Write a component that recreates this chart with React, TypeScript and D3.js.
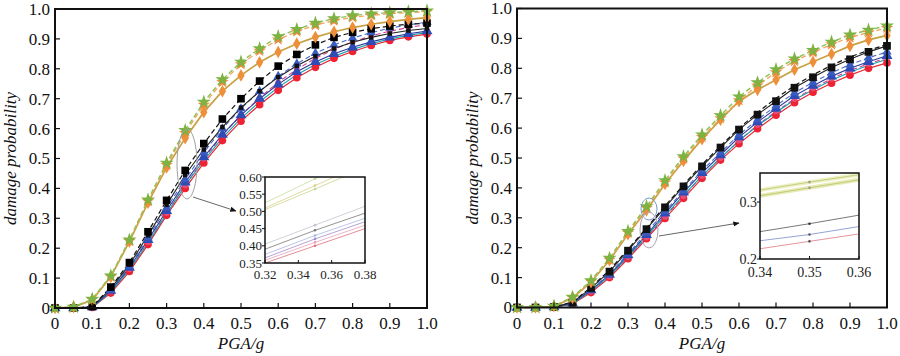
import React from 'react';
import * as d3 from 'd3';

// ---------- data ----------
const PGA = [0, 0.05, 0.1, 0.15, 0.2, 0.25, 0.3, 0.35, 0.4, 0.45, 0.5, 0.55, 0.6, 0.65, 0.7, 0.75, 0.8, 0.85, 0.9, 0.95, 1.0];
const AXIS_TICKS = [0, 0.1, 0.2, 0.3, 0.4, 0.5, 0.6, 0.7, 0.8, 0.9, 1.0];
const AXIS_TICK_LABELS = ['0', '0.1', '0.2', '0.3', '0.4', '0.5', '0.6', '0.7', '0.8', '0.9', '1.0'];

// left panel
const L_GREEN_DASH = [0, 0.003, 0.03, 0.108, 0.228, 0.362, 0.485, 0.594, 0.689, 0.764, 0.823, 0.868, 0.908, 0.932, 0.953, 0.968, 0.978, 0.984, 0.988, 0.991, 0.994];
const L_ORANGE_DASH = [0, 0.003, 0.028, 0.105, 0.224, 0.357, 0.478, 0.585, 0.68, 0.756, 0.815, 0.86, 0.898, 0.925, 0.946, 0.961, 0.972, 0.979, 0.984, 0.988, 0.991];
const L_GOLD_SOLID = [0, 0.003, 0.027, 0.104, 0.222, 0.352, 0.47, 0.568, 0.655, 0.725, 0.778, 0.822, 0.856, 0.884, 0.906, 0.924, 0.938, 0.949, 0.958, 0.965, 0.971];
const L_BLACK_DASH = [0, 0, 0.005, 0.07, 0.152, 0.255, 0.36, 0.46, 0.55, 0.632, 0.70, 0.759, 0.809, 0.848, 0.88, 0.905, 0.922, 0.934, 0.943, 0.949, 0.953];
const L_BLACK_SOLID = [0, 0, 0.004, 0.065, 0.145, 0.243, 0.345, 0.445, 0.53, 0.605, 0.67, 0.725, 0.772, 0.81, 0.842, 0.868, 0.889, 0.905, 0.918, 0.928, 0.935];
const L_BLUE_DASH = [0, 0, 0.003, 0.06, 0.14, 0.235, 0.335, 0.43, 0.52, 0.6, 0.667, 0.725, 0.775, 0.817, 0.852, 0.88, 0.903, 0.921, 0.936, 0.947, 0.956];
const L_BLUE_SOLID = [0, 0, 0.003, 0.058, 0.135, 0.228, 0.325, 0.42, 0.505, 0.58, 0.645, 0.7, 0.748, 0.79, 0.823, 0.85, 0.872, 0.89, 0.905, 0.917, 0.926];
const L_TEAL_SOLID = [0, 0, 0.002, 0.054, 0.128, 0.218, 0.315, 0.41, 0.494, 0.569, 0.634, 0.69, 0.738, 0.78, 0.814, 0.842, 0.865, 0.884, 0.9, 0.912, 0.921];
const L_MAGENTA_DASH = [0, 0, 0.002, 0.055, 0.13, 0.22, 0.318, 0.41, 0.5, 0.578, 0.645, 0.703, 0.755, 0.798, 0.835, 0.865, 0.89, 0.91, 0.926, 0.938, 0.948];
const L_RED_SOLID = [0, 0, 0.002, 0.05, 0.122, 0.212, 0.31, 0.40, 0.485, 0.56, 0.625, 0.68, 0.728, 0.77, 0.805, 0.835, 0.858, 0.878, 0.895, 0.907, 0.916];

// right panel
const R_GREEN_DASH = [0, 0, 0.005, 0.035, 0.09, 0.165, 0.255, 0.338, 0.425, 0.505, 0.578, 0.642, 0.705, 0.752, 0.796, 0.832, 0.86, 0.888, 0.912, 0.928, 0.942];
const R_ORANGE_DASH = [0, 0, 0.004, 0.033, 0.087, 0.16, 0.25, 0.333, 0.418, 0.498, 0.57, 0.633, 0.693, 0.742, 0.787, 0.824, 0.853, 0.88, 0.903, 0.92, 0.935];
const R_GOLD_SOLID = [0, 0, 0.004, 0.032, 0.085, 0.158, 0.245, 0.325, 0.413, 0.49, 0.563, 0.628, 0.69, 0.728, 0.762, 0.795, 0.822, 0.848, 0.875, 0.895, 0.91];
const R_BLACK_DASH = [0, 0, 0.002, 0.018, 0.068, 0.125, 0.195, 0.266, 0.34, 0.41, 0.478, 0.54, 0.6, 0.652, 0.7, 0.742, 0.778, 0.81, 0.838, 0.86, 0.88];
const R_BLACK_SOLID = [0, 0, 0.002, 0.017, 0.065, 0.12, 0.19, 0.262, 0.335, 0.405, 0.472, 0.535, 0.595, 0.645, 0.69, 0.735, 0.77, 0.803, 0.83, 0.855, 0.875];
const R_BLUE_DASH = [0, 0, 0.001, 0.015, 0.06, 0.113, 0.18, 0.25, 0.322, 0.39, 0.458, 0.518, 0.578, 0.628, 0.675, 0.718, 0.753, 0.785, 0.812, 0.835, 0.855];
const R_BLUE_SOLID = [0, 0, 0.001, 0.014, 0.058, 0.11, 0.175, 0.243, 0.315, 0.385, 0.45, 0.51, 0.57, 0.62, 0.665, 0.708, 0.742, 0.773, 0.8, 0.822, 0.842];
const R_TEAL_SOLID = [0, 0, 0.001, 0.013, 0.055, 0.105, 0.17, 0.237, 0.307, 0.375, 0.44, 0.5, 0.558, 0.608, 0.652, 0.695, 0.728, 0.76, 0.787, 0.81, 0.83];
const R_MAGENTA_DASH = [0, 0, 0.001, 0.012, 0.053, 0.103, 0.168, 0.234, 0.303, 0.372, 0.44, 0.5, 0.558, 0.61, 0.656, 0.697, 0.733, 0.765, 0.793, 0.815, 0.835];
const R_RED_SOLID = [0, 0, 0.001, 0.012, 0.05, 0.1, 0.163, 0.23, 0.298, 0.365, 0.432, 0.493, 0.548, 0.598, 0.643, 0.685, 0.72, 0.75, 0.777, 0.8, 0.818];

// left inset (zoom of PGA 0.32–0.38)
const LI_X = [0.32, 0.35, 0.38];
const LI_UP1 = [0.525, 0.595, 0.665];
const LI_UP2 = [0.51, 0.575, 0.64];
const LI_UP3 = [0.505, 0.565, 0.627];
const LI_LO1 = [0.405, 0.46, 0.515];
const LI_LO2 = [0.39, 0.445, 0.495];
const LI_LO3 = [0.375, 0.43, 0.48];
const LI_LO4 = [0.365, 0.42, 0.47];
const LI_LO5 = [0.358, 0.41, 0.46];
const LI_LO6 = [0.35, 0.40, 0.45];
const LI_X_TICKS = [0.32, 0.34, 0.36, 0.38];
const LI_X_LABELS = ['0.32', '0.34', '0.36', '0.38'];
const LI_Y_TICKS = [0.35, 0.40, 0.45, 0.50, 0.55, 0.60];
const LI_Y_LABELS = ['0.35', '0.40', '0.45', '0.50', '0.55', '0.60'];

// right inset (zoom of PGA 0.34–0.36)
const RI_X = [0.34, 0.35, 0.36];
const RI_UP1 = [0.321, 0.335, 0.348];
const RI_UP2 = [0.311, 0.325, 0.339];
const RI_LO1 = [0.248, 0.262, 0.277];
const RI_LO2 = [0.232, 0.243, 0.257];
const RI_LO3 = [0.218, 0.231, 0.244];
const RI_X_TICKS = [0.34, 0.35, 0.36];
const RI_X_LABELS = ['0.34', '0.35', '0.36'];
const RI_Y_TICKS = [0.2, 0.3];
const RI_Y_LABELS = ['0.2', '0.3'];

// ---------- styles ----------
type Sty = { color: string; dash?: string; width: number; marker?: any; mcolor?: string; msize?: number };
const ST = {
  green: { color: '#8cc152', dash: '5,3', width: 1.4, marker: d3.symbolStar, mcolor: '#7cb342', msize: 62 },
  orange: { color: '#f4a460', dash: '5,3', width: 1.3, marker: d3.symbolStar, mcolor: '#f0883a', msize: 48 },
  gold: { color: '#c8a040', width: 1.7, marker: d3.symbolDiamond, mcolor: '#ee8f3a', msize: 46 },
  blackD: { color: '#111', dash: '5,3', width: 1.2, marker: d3.symbolSquare, mcolor: '#000', msize: 58 },
  blackS: { color: '#222', width: 1.1, marker: d3.symbolSquare, mcolor: '#111', msize: 20 },
  blueD: { color: '#4a68c8', dash: '5,3', width: 1.1, marker: d3.symbolTriangle, mcolor: '#3a5bc0', msize: 38 },
  blueS: { color: '#2a3a9a', width: 1.1, marker: d3.symbolTriangle, mcolor: '#2f4bb5', msize: 52 },
  teal: { color: '#1a9ea8', width: 1.1 },
  magenta: { color: '#d23c8c', dash: '5,3', width: 1.1, marker: d3.symbolCircle, mcolor: '#e0507a', msize: 26 },
  red: { color: '#e62a36', width: 1.2, marker: d3.symbolCircle, mcolor: '#ee2233', msize: 46 },
} as Record<string, Sty>;

const LEFT_SERIES: [number[], Sty][] = [
  [L_RED_SOLID, ST.red], [L_MAGENTA_DASH, ST.magenta], [L_TEAL_SOLID, ST.teal], [L_BLUE_SOLID, ST.blueS],
  [L_BLUE_DASH, ST.blueD], [L_BLACK_SOLID, ST.blackS], [L_BLACK_DASH, ST.blackD],
  [L_GOLD_SOLID, ST.gold], [L_ORANGE_DASH, ST.orange], [L_GREEN_DASH, ST.green],
];
const RIGHT_SERIES: [number[], Sty][] = [
  [R_RED_SOLID, ST.red], [R_MAGENTA_DASH, ST.magenta], [R_TEAL_SOLID, ST.teal], [R_BLUE_SOLID, ST.blueS],
  [R_BLUE_DASH, ST.blueD], [R_BLACK_DASH, { ...ST.blackD, marker: undefined }], [R_BLACK_SOLID, { ...ST.blackS, msize: 60 }],
  [R_GOLD_SOLID, ST.gold], [R_ORANGE_DASH, ST.orange], [R_GREEN_DASH, ST.green],
];

const FONT = '"Times New Roman", "Liberation Serif", "DejaVu Serif", serif';

type Box = { l: number; r: number; t: number; b: number };

function Inset({ id, box, xd, yd, xs, lines, xt, xl, yt, yl, fs, markAt, xlOff }: any) {
  const x = d3.scaleLinear().domain(xd).range([box.l, box.r]);
  const y = d3.scaleLinear().domain(yd).range([box.b, box.t]);
  const line = d3.line<number>().x((_, i) => x(xs[i])).y((d) => y(d));
  return (
    <g>
      <defs>
        <clipPath id={id}>
          <rect x={box.l} y={box.t} width={box.r - box.l} height={box.b - box.t} />
        </clipPath>
      </defs>
      <rect x={box.l} y={box.t} width={box.r - box.l} height={box.b - box.t} fill="#fff" />
      <g clipPath={`url(#${id})`}>
        {lines.map((ln: any, i: number) => (
          <g key={i}>
            {ln.band && <path d={line(ln.v) || ''} fill="none" stroke={ln.band} strokeWidth={4} />}
            <path d={line(ln.v) || ''} fill="none" stroke={ln.c} strokeWidth={ln.w || 0.8} />
            <circle cx={x(xs[markAt])} cy={y(ln.v[markAt])} r={1.3} fill={ln.m || ln.c} />
          </g>
        ))}
      </g>
      <rect x={box.l} y={box.t} width={box.r - box.l} height={box.b - box.t} fill="none" stroke="#111" strokeWidth={1.5} />
      {yt.map((t: number, i: number) => (
        <g key={'y' + i}>
          <line x1={box.l - 3} x2={box.l} y1={y(t)} y2={y(t)} stroke="#111" strokeWidth={1} />
          <text x={box.l - 3} y={y(t)} dy="0.35em" textAnchor="end" fontSize={fs} style={{ fontFamily: FONT }} fill="#222">{yl[i]}</text>
        </g>
      ))}
      {xt.map((t: number, i: number) => (
        <g key={'x' + i}>
          <line x1={x(t)} x2={x(t)} y1={box.b} y2={box.b - 3} stroke="#111" strokeWidth={1} />
          <text x={x(t)} y={box.b + xlOff} textAnchor="middle" fontSize={fs} style={{ fontFamily: FONT }} fill="#222">{xl[i]}</text>
        </g>
      ))}
    </g>
  );
}

function Panel({ box, series, inset, ytitleX, children }: { box: Box; series: [number[], Sty][]; inset: any; ytitleX: number; children?: any }) {
  const x = d3.scaleLinear().domain([0, 1]).range([box.l, box.r]);
  const y = d3.scaleLinear().domain([0, 1]).range([box.b, box.t]);
  const line = d3.line<number>().x((_, i) => x(PGA[i])).y((d) => y(d));
  return (
    <g>
      {series.map(([v, s], i) => (
        <path key={'l' + i} d={line(v) || ''} fill="none" stroke={s.color} strokeWidth={s.width} strokeDasharray={s.dash} />
      ))}
      {series.map(([v, s], i) =>
        s.marker ? (
          <g key={'m' + i}>
            {v.map((d, j) => (
              <path key={j} transform={`translate(${x(PGA[j])},${y(d)})`} d={d3.symbol().type(s.marker).size(s.msize || 40)() || ''} fill={s.mcolor} />
            ))}
          </g>
        ) : null
      )}
      <rect x={box.l} y={box.t} width={box.r - box.l} height={box.b - box.t} fill="none" stroke="#111" strokeWidth={2} />
      {AXIS_TICKS.map((t, i) => (
        <g key={'xt' + i}>
          <line x1={x(t)} x2={x(t)} y1={box.b} y2={box.b - 5} stroke="#111" strokeWidth={1.2} />
          <text x={x(t)} y={box.b + 21} textAnchor="middle" fontSize={17} style={{ fontFamily: FONT }} fill="#111">{AXIS_TICK_LABELS[i]}</text>
        </g>
      ))}
      {AXIS_TICKS.map((t, i) => (
        <g key={'yt' + i}>
          <line x1={box.l} x2={box.l + 5} y1={y(t)} y2={y(t)} stroke="#111" strokeWidth={1.2} />
          <text x={box.l - 5} y={y(t)} dy="0.35em" textAnchor="end" fontSize={17} style={{ fontFamily: FONT }} fill="#111">{AXIS_TICK_LABELS[i]}</text>
        </g>
      ))}
      <text x={(box.l + box.r) / 2} y={349} textAnchor="middle" fontSize={17} fontStyle="italic" style={{ fontFamily: FONT }} fill="#111">PGA/g</text>
      <text transform={`translate(${ytitleX},${(box.t + box.b) / 2}) rotate(-90)`} textAnchor="middle" fontSize={17} fontStyle="italic" style={{ fontFamily: FONT }} fill="#111">damage probability</text>
      {children}
      <Inset {...inset} />
    </g>
  );
}

export default function App() {
  const LB: Box = { l: 55, r: 427, t: 9, b: 308 };
  const RB: Box = { l: 517, r: 887, t: 8.5, b: 307.5 };
  const leftInset = {
    id: 'clipL', box: { l: 265, r: 365, t: 177, b: 263 }, xd: [0.32, 0.38], yd: [0.35, 0.6], xs: LI_X, markAt: 1, fs: 13, xlOff: 16,
    xt: LI_X_TICKS, xl: LI_X_LABELS, yt: LI_Y_TICKS, yl: LI_Y_LABELS,
    lines: [
      { v: LI_UP1, c: '#c5dc9a' }, { v: LI_UP2, c: '#d8cf86' }, { v: LI_UP3, c: '#c9d48e' },
      { v: LI_LO1, c: '#c4c4d0' }, { v: LI_LO2, c: '#777' }, { v: LI_LO3, c: '#a9b6e6' },
      { v: LI_LO4, c: '#a58ccc' }, { v: LI_LO5, c: '#e9a0b8' }, { v: LI_LO6, c: '#e0707c' },
    ],
  };
  const rightInset = {
    id: 'clipR', box: { l: 760, r: 859, t: 173, b: 259 }, xd: [0.34, 0.36], yd: [0.2, 0.351], xs: RI_X, markAt: 1, fs: 14, xlOff: 18,
    xt: RI_X_TICKS, xl: RI_X_LABELS, yt: RI_Y_TICKS, yl: RI_Y_LABELS,
    lines: [
      { v: RI_UP1, c: '#b8c878', band: '#eef0c0', m: '#999' }, { v: RI_UP2, c: '#b8c070', band: '#e8ecb4', m: '#999' },
      { v: RI_LO1, c: '#555', m: '#333' }, { v: RI_LO2, c: '#7a8cc8', m: '#556' }, { v: RI_LO3, c: '#e07a80', m: '#555' },
    ],
  };
  return (
    <svg width={900} height={356} style={{ position: 'absolute', left: 0, top: 0, background: '#fff' }}>
      <defs>
        <marker id="arr" viewBox="0 0 10 10" refX="9" refY="5" markerWidth="7" markerHeight="7" orient="auto">
          <path d="M0,1 L10,5 L0,9 Z" fill="#111" />
        </marker>
      </defs>
      <rect width={900} height={356} fill="#fff" />
      <Panel box={LB} series={LEFT_SERIES} inset={leftInset} ytitleX={16}>
        <ellipse cx={187} cy={164} rx={10} ry={35} fill="none" stroke="#a0a0a0" strokeWidth={1} />
        <line x1={193} y1={197} x2={236} y2={211} stroke="#555" strokeWidth={0.9} markerEnd="url(#arr)" />
      </Panel>
      <Panel box={RB} series={RIGHT_SERIES} inset={rightInset} ytitleX={478}>
        <ellipse cx={649} cy={209} rx={8} ry={11} fill="none" stroke="#7a9ad0" strokeWidth={1} />
        <ellipse cx={649} cy={230} rx={9} ry={18} fill="none" stroke="#b0a0b0" strokeWidth={1} />
        <line x1={659} y1={236} x2={739} y2={223} stroke="#555" strokeWidth={0.9} markerEnd="url(#arr)" />
      </Panel>
    </svg>
  );
}
